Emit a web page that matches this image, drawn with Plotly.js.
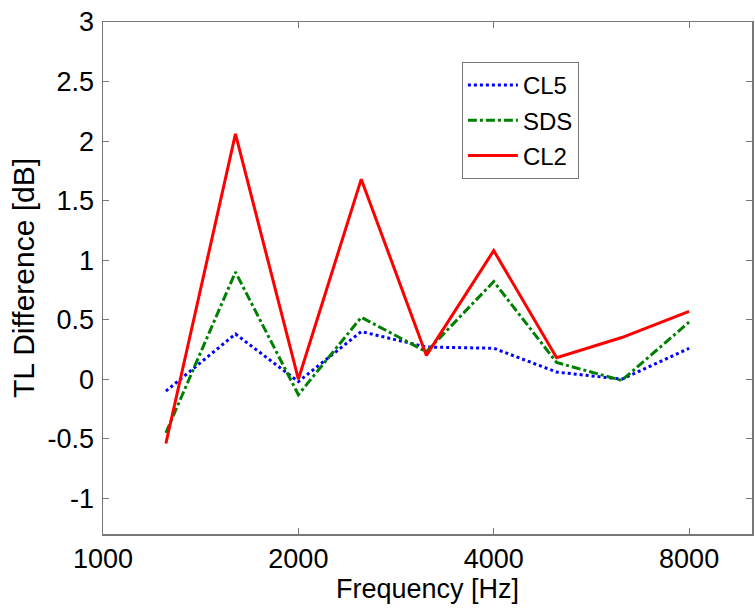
<!DOCTYPE html>
<html><head><meta charset="utf-8">
<script src="https://cdn.plot.ly/plotly-3.0.1.min.js"></script>
<style>html,body{margin:0;padding:0;background:#fff}#chart{width:755px;height:608px}</style>
</head><body><div id="chart"></div>
<script>
const freq = [1250, 1600, 2000, 2500, 3150, 4000, 5000, 6300, 8000];
const cl5 = [-0.10, 0.38, -0.02, 0.40, 0.27, 0.26, 0.06, 0.00, 0.26];
const sds = [-0.45, 0.90, -0.13, 0.52, 0.23, 0.82, 0.14, -0.01, 0.48];
const cl2 = [-0.54, 2.06, 0.00, 1.68, 0.20, 1.08, 0.18, 0.35, 0.57];
const xTicks = [1000, 2000, 4000, 8000];
const xTickText = ['1000', '2000', '4000', '8000'];
const yTicks = [-1, -0.5, 0, 0.5, 1, 1.5, 2, 2.5, 3];
const yTickText = ['-1', '-0.5', '0', '0.5', '1', '1.5', '2', '2.5', '3'];

const fam = 'Liberation Sans, Arial, sans-serif';
const tickFont = {family: fam, size: 27, color: '#000'};
const traces = [
  {x: freq, y: cl5, name: 'CL5', legendgroup: 'a', mode: 'lines', line: {color: '#0000ff', width: 3, dash: 'dot'}},
  {x: freq, y: sds, name: 'SDS', legendgroup: 'b', mode: 'lines', line: {color: '#008000', width: 3, dash: 'dashdot'}},
  {x: freq, y: cl2, name: 'CL2', legendgroup: 'c', mode: 'lines', line: {color: '#ff0000', width: 3, dash: 'solid'}}
];
const axCommon = {showgrid: false, zeroline: false, showline: true, mirror: 'ticks', linecolor: '#777', linewidth: 1.5,
  ticks: 'inside', ticklen: 6, tickcolor: '#777', tickfont: tickFont};
const layout = {
  width: 755, height: 608,
  margin: {l: 103, r: 3, t: 22, b: 74},
  paper_bgcolor: '#fff', plot_bgcolor: '#fff',
  font: tickFont,
  showlegend: true,
  legend: {x: 0.553, y: 0.922, xanchor: 'left', yanchor: 'top', bordercolor: '#777', borderwidth: 1,
    bgcolor: '#fff', font: {family: fam, size: 24, color: '#000'}, tracegroupgap: 1, itemwidth: 50},
  xaxis: Object.assign({}, axCommon, {type: 'log', range: [3, 4], tickmode: 'array', tickvals: xTicks, ticktext: xTickText,
    ticklabelstandoff: 0,
    title: {text: 'Frequency [Hz]', font: {family: fam, size: 27, color: '#000'}, standoff: 0}}),
  yaxis: Object.assign({}, axCommon, {range: [-1.3, 3], tickmode: 'array', tickvals: yTicks, ticktext: yTickText,
    ticklabelstandoff: 2,
    title: {text: 'TL Difference [dB]', font: {family: fam, size: 30, color: '#000'}, standoff: 4}})
};
Plotly.newPlot('chart', traces, layout, {displayModeBar: false, staticPlot: true});
</script></body></html>
